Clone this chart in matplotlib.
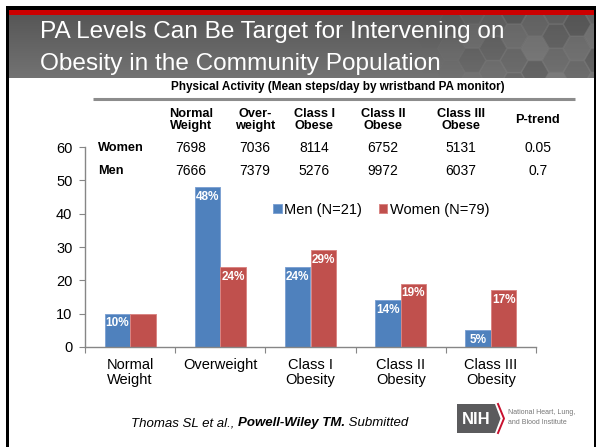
import matplotlib
matplotlib.use("Agg")
import matplotlib.pyplot as plt
import matplotlib.patches as mpatches
import numpy as np

plt.rcParams["font.family"] = ["Liberation Sans", "DejaVu Sans"]

# Chart data (percent of group in each BMI category)
categories = ["Normal\nWeight", "Overweight", "Class I\nObesity", "Class II\nObesity", "Class III\nObesity"]
men_pct = [10, 48, 24, 14, 5]
women_pct = [10, 24, 29, 19, 17]
men_labels = ["10%", "48%", "24%", "14%", "5%"]
women_labels = ["", "24%", "29%", "19%", "17%"]
series_names = ["Men (N=21)", "Women (N=79)"]

# Table data (mean steps/day)
table_title = "Physical Activity (Mean steps/day by wristband PA monitor)"
table_cols = ["Normal\nWeight", "Over-\nweight", "Class I\nObese", "Class II\nObese", "Class III\nObese", "P-trend"]
table_rows = ["Women", "Men"]
women_steps = ["7698", "7036", "8114", "6752", "5131", "0.05"]
men_steps = ["7666", "7379", "5276", "9972", "6037", "0.7"]

title_lines = ["PA Levels Can Be Target for Intervening on", "Obesity in the Community Population"]

blue = "#4F81BD"
red = "#C0504D"

W, H = 596, 447
fig = plt.figure(figsize=(W / 100, H / 100), dpi=100)
fig.patch.set_facecolor("white")

# Background layer in pixel coordinates
bg = fig.add_axes([0, 0, 1, 1], zorder=0)
bg.set_xlim(0, W)
bg.set_ylim(H, 0)
bg.axis("off")

# title band: vertical gray gradient
grad = np.linspace(0.34, 0.45, 64)[:, None] * np.ones((1, 8))
bg.imshow(np.dstack([grad, grad, grad]), extent=(8, 594, 78, 14), aspect="auto",
          origin="upper", interpolation="bilinear", zorder=1)

# honeycomb texture on the right of the title band
clip = mpatches.Rectangle((8, 14), 586, 64, transform=bg.transData)
hex_r = 14
shades = [0.40, 0.47, 0.33, 0.52, 0.43, 0.37]
for row in range(4):
    for col in range(9):
        cx = 430 + col * hex_r * 1.5
        cy = 12 + row * hex_r * 1.73 + (col % 2) * hex_r * 0.87
        shade = shades[(row * 5 + col * 2) % len(shades)]
        fade = min(1.0, max(0.0, (cx - 425) / 90))
        poly = mpatches.RegularPolygon((cx, cy), 6, radius=hex_r * 0.97, orientation=np.pi / 6,
                                       facecolor=(shade, shade, shade), edgecolor=(0.5, 0.5, 0.5),
                                       linewidth=0.6, alpha=0.45 * fade, zorder=2)
        bg.add_patch(poly)
        poly.set_clip_path(clip)

# frame: black top line, red band, side lines
bg.add_patch(mpatches.Rectangle((6, 6), 590, 4, facecolor="black", edgecolor="none", zorder=3))
bg.add_patch(mpatches.Rectangle((8, 10), 588, 4.5, facecolor="#CC0000", edgecolor="none", zorder=3))
bg.add_patch(mpatches.Rectangle((6, 6), 2.5, H, facecolor="black", edgecolor="none", zorder=3))
bg.add_patch(mpatches.Rectangle((594, 6), 2, H, facecolor="black", edgecolor="none", zorder=3))

# title text
bg.text(40, 38, title_lines[0], color="white", fontsize=17.6, va="baseline", ha="left", zorder=4)
bg.text(40, 70, title_lines[1], color="white", fontsize=17.6, va="baseline", ha="left", zorder=4)

# table
bg.text(338, 87, table_title, fontsize=8.5, fontweight="bold", ha="center", va="center")
bg.plot([93, 575], [98.5, 98.5], color="#8C8C8C", lw=2.2, solid_capstyle="butt")
col_x = [191, 255, 314, 383, 461, 538]
for x, lab in zip(col_x, table_cols):
    bg.text(x, 120, lab, fontsize=9.2, fontweight="bold", ha="center", va="center", linespacing=1.05)
for y, name, vals in zip([148, 171], table_rows, [women_steps, men_steps]):
    bg.text(98, y, name, fontsize=9.2, fontweight="bold", ha="left", va="center")
    for x, v in zip(col_x, vals):
        bg.text(x, y, v, fontsize=10, ha="center", va="center")

# citation, pieced together in mixed styles
renderer = fig.canvas.get_renderer()
pieces = [("Thomas SL et al., ", "normal"), ("Powell-Wiley TM.", "bold"), (" Submitted", "normal")]
cx = 131
for txt, wt in pieces:
    t = bg.text(cx, 423, txt, fontsize=9.5, style="italic", fontweight=wt, ha="left", va="center")
    cx += t.get_window_extent(renderer).width

# NIH logo
bg.add_patch(mpatches.Polygon([(457, 404), (495, 404), (500.5, 418.5), (495, 433), (457, 433)],
                              closed=True, facecolor="#5B5B5D", edgecolor="none"))
bg.plot([498, 504, 498], [404, 418.5, 433], color="#C8102E", lw=1.4)
bg.text(476, 419, "NIH", color="white", fontsize=12, fontweight="bold", ha="center", va="center")
bg.text(508, 413, "National Heart, Lung,", color="#777777", fontsize=5, ha="left", va="center")
bg.text(508, 423, "and Blood Institute", color="#777777", fontsize=5, ha="left", va="center")

# Bar chart
ax = fig.add_axes([85 / W, 100 / H, 451 / W, 200 / H], zorder=1)
ax.patch.set_alpha(0)
x = np.arange(len(categories))
w = 0.283
b1 = ax.bar(x - w / 2, men_pct, w, color=blue, edgecolor="#7FA3D3", linewidth=0.7, label=series_names[0])
b2 = ax.bar(x + w / 2, women_pct, w, color=red, edgecolor="#D98583", linewidth=0.7, label=series_names[1])

for bars, labels in [(b1, men_labels), (b2, women_labels)]:
    for rect, lab in zip(bars, labels):
        if lab:
            ax.annotate(lab, (rect.get_x() + rect.get_width() / 2, rect.get_height()),
                        xytext=(0, -7), textcoords="offset points", ha="center", va="center",
                        color="white", fontsize=8.5, fontweight="bold")

ax.set_xlim(-0.5, len(categories) - 0.5)
ax.set_ylim(0, 60)
ax.set_yticks(range(0, 61, 10))
ax.set_xticks(np.arange(-0.5, len(categories), 1.0))
ax.set_xticklabels([])
ax.set_xticks(x, minor=True)
ax.set_xticklabels(categories, minor=True, fontsize=10.5, linespacing=1.1)
ax.tick_params(axis="x", which="major", length=4, color="#868686", direction="out")
ax.tick_params(axis="x", which="minor", length=0, pad=8)
ax.tick_params(axis="y", length=4, color="#868686", labelsize=10.5, pad=5)
for s in ["top", "right"]:
    ax.spines[s].set_visible(False)
for s in ["left", "bottom"]:
    ax.spines[s].set_color("#868686")
    ax.spines[s].set_linewidth(1.0)

ax.legend(loc="center left", bbox_to_anchor=(273 / W, 1 - 210 / H), bbox_transform=fig.transFigure,
          ncol=2, frameon=False, fontsize=10.5, handlelength=0.6, handleheight=0.6,
          handletextpad=0.15, columnspacing=1.15, borderpad=0, borderaxespad=0)

fig.savefig("out.png", dpi=100)
